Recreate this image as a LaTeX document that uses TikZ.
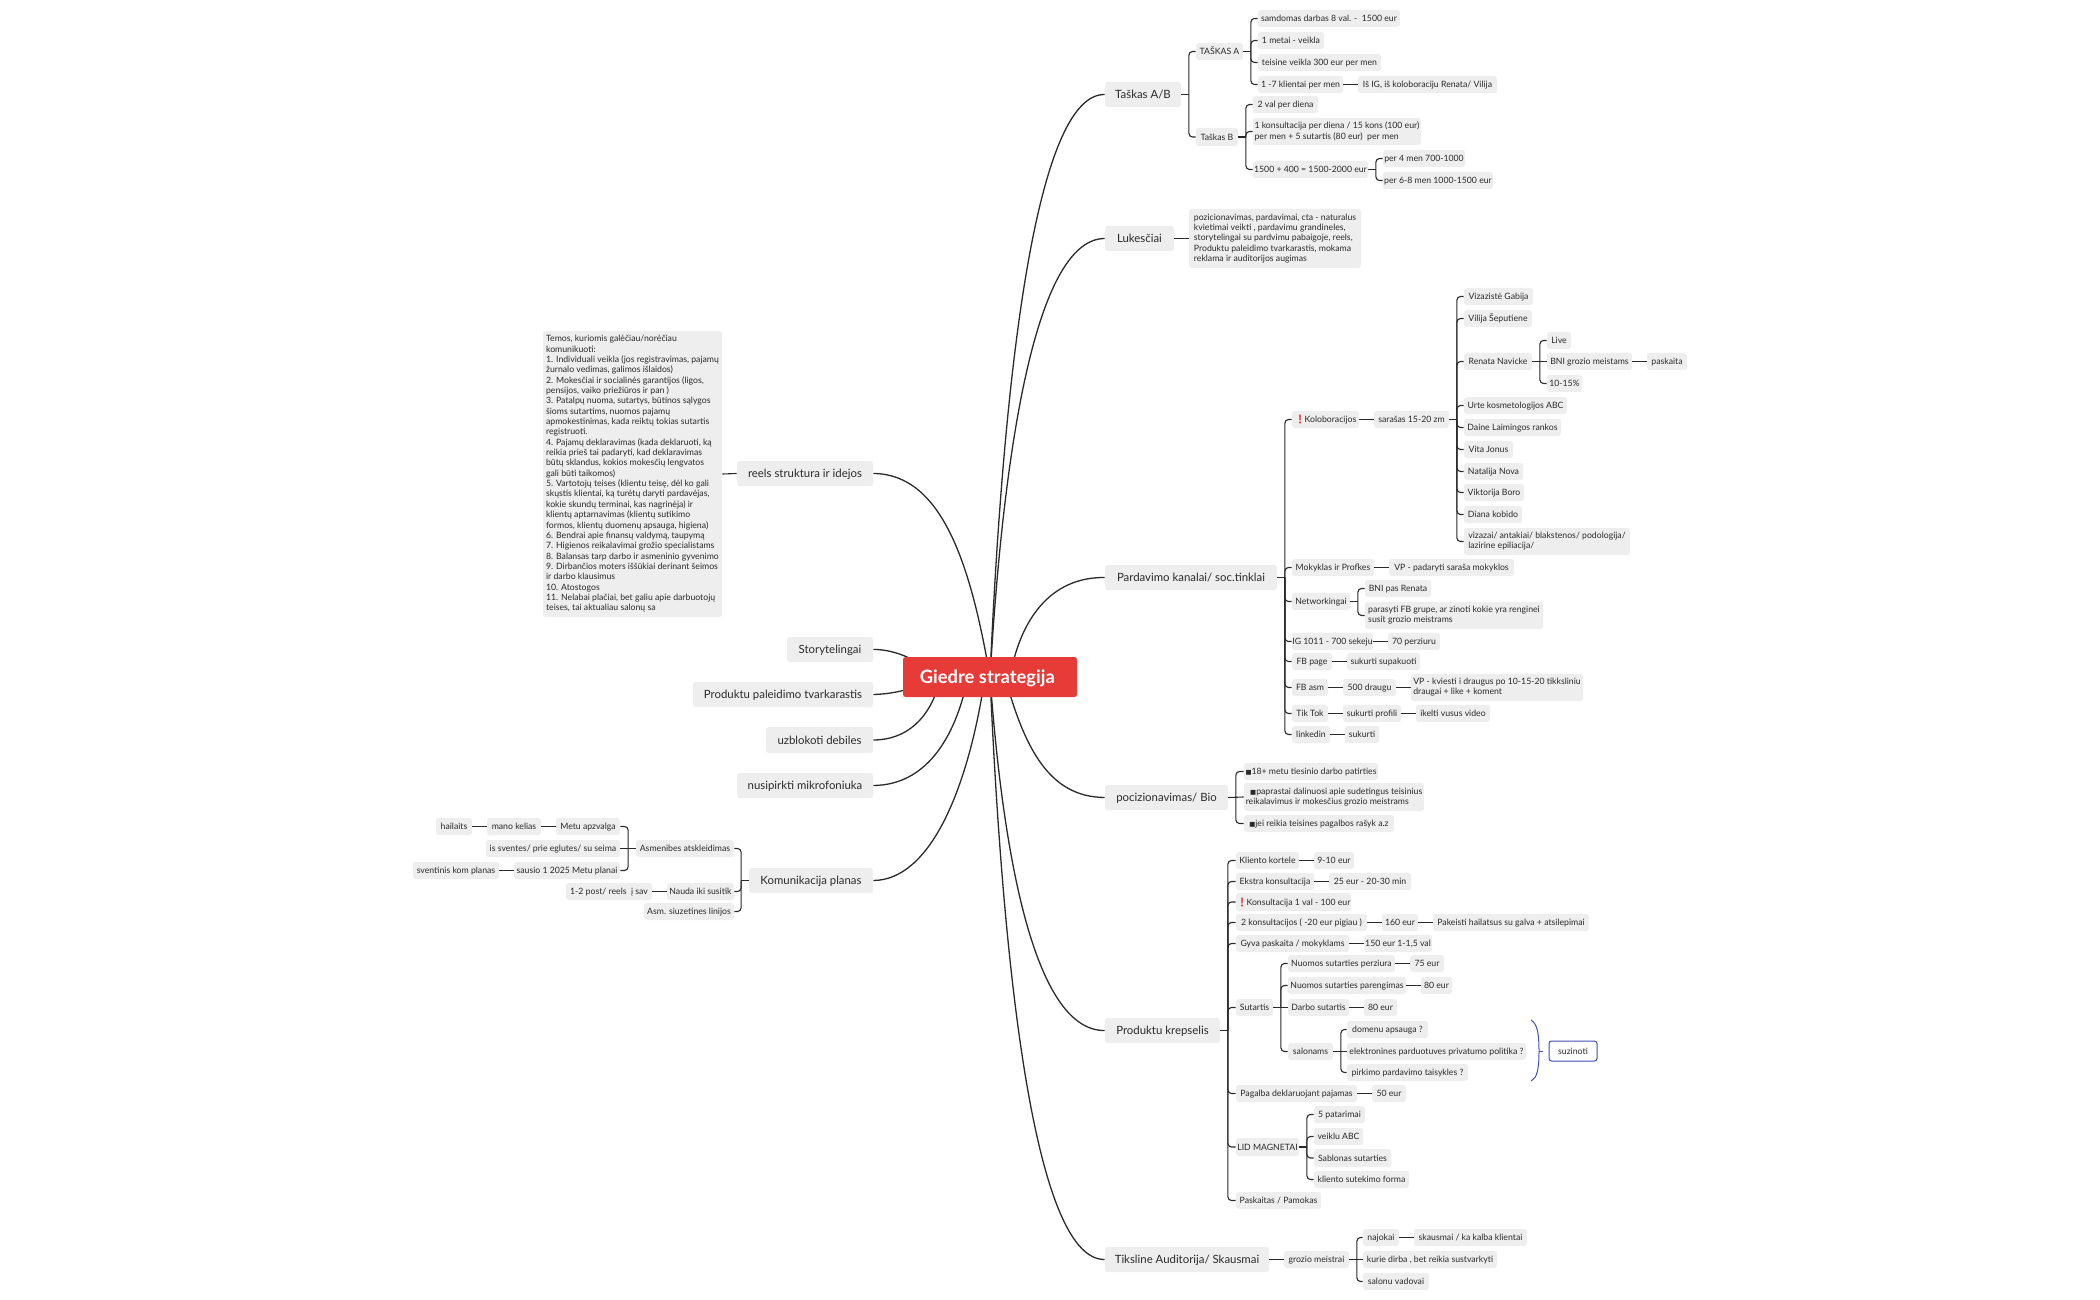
\documentclass[tikz,border=0pt]{standalone}
\usepackage{fontspec}
\setmainfont{Lato}
\newfontfamily\emojif{Noto Emoji}
\newfontfamily\symf{DejaVu Sans}
\usetikzlibrary{backgrounds}
\definecolor{inkc}{HTML}{2A2A2A}
\definecolor{boxc}{HTML}{EEEEEE}
\definecolor{rootc}{HTML}{E73B38}
\definecolor{bluec}{HTML}{3F51B5}
\definecolor{redc}{HTML}{E3202A}
\newcommand\alertm{{\color{redc}\emojif ❗}\kern-0.5pt}
\newcommand\sqm{{\symf\fontsize{3.2}{5}\selectfont ■}}
\tikzset{
  x=0.5pt,y=-0.5pt,
  basebox/.style={rounded corners=1.3pt,inner sep=0pt,align=left,text=inkc,fill=boxc},
  leaf/.style={basebox,font=\fontsize{4.35}{5.17}\selectfont,execute at begin node={\rule[-0.9pt]{0pt}{5.2pt}}},
  topic/.style={basebox,font=\fontsize{5.7}{7}\selectfont,execute at begin node={\rule[-1.3pt]{0pt}{6.8pt}}},
  rootbox/.style={basebox,fill=rootc,text=white,font=\fontsize{9.2}{10}\selectfont\bfseries,execute at begin node={\rule[-1.8pt]{0pt}{10.4pt}}},
  bluebox/.style={basebox,fill=white,draw=bluec,line width=0.5pt,font=\fontsize{4.35}{5.17}\selectfont,execute at begin node={\rule[-0.9pt]{0pt}{5.2pt}}},
  link/.style={draw=inkc,line width=0.55pt},
  mainlink/.style={draw=inkc,line width=0.65pt},
  bracelink/.style={draw=bluec,line width=0.5pt},
}
\newcommand\tn[7][leaf]{\node[#1,minimum width={(#5-#3)*0.5pt},minimum height={(#6-#4)*0.5pt}] (#2) at ({(#3+#5)/2},{(#4+#6)/2}) {#7};}
% branch to the right: stem to a trunk, then one elbow per child
\newcommand\brR[2]{\path (#1.east) -- ++(7.5,0) coordinate (#1t);
  \draw[link] (#1.east) -- (#1t);
  \foreach \c in {#2} {\draw[link,rounded corners=1.8pt] (#1t) |- (\c.west);}}
\newcommand\brL[2]{\path (#1.west) -- ++(-7.5,0) coordinate (#1t);
  \draw[link] (#1.west) -- (#1t);
  \foreach \c in {#2} {\draw[link,rounded corners=1.8pt] (#1t) |- (\c.east);}}
% straight links
\newcommand\lnR[2]{\draw[link] (#1.east) -- (#2.west);}
\newcommand\lnL[2]{\draw[link] (#1.west) -- (#2.east);}
\begin{document}
\begin{tikzpicture}
\useasboundingbox (0,0) rectangle (2100,1300);
% root
\tn[rootbox]{root}{903}{657}{1077}{697}{Giedre strategija\kern2.7pt}
% level 1 right
\tn[topic]{tab}{1105}{82}{1181}{107}{Taškas A/B}
\tn[topic]{luk}{1105}{226}{1174}{251}{Lukesčiai}
\tn[topic]{par}{1105}{565}{1277}{590}{Pardavimo kanalai/ soc.tinklai}
\tn[topic]{poz}{1105}{785}{1228}{810}{pocizionavimas/ Bio}
\tn[topic]{pro}{1105}{1018}{1220}{1043}{Produktu krepselis}
\tn[topic]{tik}{1105}{1247}{1269}{1272}{Tiksline Auditorija/ Skausmai}
% level 1 left
\tn[topic]{ree}{737}{461}{873}{486}{reels struktura ir idejos}
\tn[topic]{sto}{787}{637}{873}{662}{Storytelingai}
\tn[topic]{pal}{693}{682}{873}{707}{Produktu paleidimo tvarkarastis}
\tn[topic]{uzb}{766}{727}{873}{753}{uzblokoti debiles}
\tn[topic]{nus}{737}{773}{873}{798}{nusipirkti mikrofoniuka}
\tn[topic]{kom}{749}{868}{873}{893}{Komunikacija planas}
% main links
\coordinate (rs1) at (1010,677);
\coordinate (rs2) at (1005,677);
\coordinate (rs3) at (930,677);
\coordinate (rs4) at (920,685);
\coordinate (rs5) at (940,680);
\coordinate (rs6) at (968,677);
\coordinate (rs7) at (985,677);
\begin{scope}[on background layer]
\draw[mainlink] (root.center) .. controls (1005,340) and (1040,94) .. (tab.west);
\draw[mainlink] (root.center) .. controls (1005,423) and (1040,239) .. (luk.west);
\draw[mainlink] (rs1) .. controls (1020,620) and (1050,577) .. (par.west);
\draw[mainlink] (rs2) .. controls (1025,750) and (1050,797) .. (poz.west);
\draw[mainlink] (root.center) .. controls (1005,882) and (1040,1031) .. (pro.west);
\draw[mainlink] (root.center) .. controls (1005,1015) and (1040,1260) .. (tik.west);
\draw[mainlink] (root.center) .. controls (970,559) and (940,474) .. (ree.east);
\draw[mainlink] (rs3) .. controls (925,662) and (895,649) .. (sto.east);
\draw[mainlink] (rs4) .. controls (905,691) and (890,694) .. (pal.east);
\draw[mainlink] (rs5) .. controls (930,720) and (905,740) .. (uzb.east);
\draw[mainlink] (rs6) .. controls (955,740) and (925,785) .. (nus.east);
\draw[mainlink] (rs7) .. controls (968,790) and (930,880) .. (kom.east);
\end{scope}
% Taskas
\tn{ta}{1196}{43}{1243}{60}{TAŠKAS A}
\tn{tb}{1196}{128}{1238}{146}{Taškas B}
\tn{ta1}{1258}{10}{1400}{27}{samdomas darbas 8 val. -\ \ 1500 eur}
\tn{ta2}{1258}{32}{1324}{49}{1 metai - veikla}
\tn{ta3}{1258}{54}{1381}{71}{teisine veikla 300 eur per men}
\tn{ta4}{1258}{76}{1343}{93}{1 -7 klientai per men}
\tn{ta5}{1358}{76}{1497}{93}{Iš IG, iš koloboraciju Renata/ Vilija}
\tn{tb1}{1253}{96}{1318}{113}{2 val per diena}
\tn{tb2}{1253}{118}{1421}{145}{1 konsultacija per diena / 15 kons (100 eur)\\per men + 5 sutartis (80 eur)\ \ per men}
\tn{tb3}{1253}{161}{1368}{178}{1500 + 400 = 1500-2000 eur}
\tn{tb4}{1383}{150}{1465}{167}{per 4 men 700-1000}
\tn{tb5}{1383}{172}{1493}{189}{per 6-8 men 1000-1500 eur}
\brR{tab}{ta,tb}
\brR{ta}{ta1,ta2,ta3,ta4}
\lnR{ta4}{ta5}
\brR{tb}{tb1,tb2,tb3}
\brR{tb3}{tb4,tb5}
% Lukesciai
\tn{luk1}{1189}{209}{1361}{268}{pozicionavimas, pardavimai, cta - naturalus\\kvietimai veikti , pardavimu grandineles,\\storytelingai su pardvimu pabaigoje, reels,\\Produktu paleidimo tvarkarastis, mokama\\reklama ir auditorijos augimas}
\lnR{luk}{luk1}
% Pardavimo
\tn{kol}{1292}{411}{1359}{428}{\alertm Koloboracijos}
\tn{sar}{1374}{411}{1449}{428}{sarašas 15-20 zm}
\tn{z1}{1464}{288}{1533}{305}{Vizazistė Gabija}
\tn{z2}{1464}{310}{1532}{327}{Vilija Šeputiene}
\tn{z3}{1464}{353}{1532}{370}{Renata Navicke}
\tn{z3a}{1547}{332}{1571}{349}{Live}
\tn{z3b}{1547}{353}{1632}{370}{BNI grozio meistams}
\tn{z3c}{1547}{375}{1582}{392}{10-15\%}
\tn{z3d}{1647}{353}{1687}{370}{paskaita}
\tn{z4}{1464}{397}{1567}{414}{Urte kosmetologijos ABC}
\tn{z5}{1464}{419}{1561}{436}{Daine Laimingos rankos}
\tn{z6}{1464}{441}{1513}{458}{Vita Jonus}
\tn{z7}{1464}{463}{1523}{480}{Natalija Nova}
\tn{z8}{1464}{484}{1524}{501}{Viktorija Boro}
\tn{z9}{1464}{506}{1522}{523}{Diana kobido}
\tn{z10}{1464}{528}{1630}{555}{vizazai/ antakiai/ blakstenos/ podologija/\\lazirine epiliacija/}
\tn{mok}{1292}{559}{1374}{576}{Mokyklas ir Profkes}
\tn{mok1}{1389}{559}{1514}{576}{VP - padaryti saraša mokyklos}
\tn{net}{1292}{593}{1350}{610}{Networkingai}
\tn{net1}{1365}{580}{1431}{597}{BNI pas Renata}
\tn{net2}{1365}{602}{1543}{629}{parasyti FB grupe, ar zinoti kokie yra renginei\\susit grozio meistrams}
\tn{ig}{1292}{633}{1373}{650}{IG 1011 - 700 sekeju}
\tn{ig1}{1388}{633}{1440}{650}{70 perziuru}
\tn{fbp}{1292}{653}{1332}{670}{FB page}
\tn{fbp1}{1347}{653}{1420}{670}{sukurti supakuoti}
\tn{fba}{1292}{679}{1328}{696}{FB asm}
\tn{fba1}{1343}{679}{1396}{696}{500 draugu}
\tn{fba2}{1411}{674}{1583}{701}{VP - kviesti i draugus po 10-15-20 tikksliniu\\draugai + like + koment}
\tn{tt}{1292}{705}{1328}{722}{Tik Tok}
\tn{tt1}{1343}{705}{1401}{722}{sukurti profili}
\tn{tt2}{1416}{705}{1490}{722}{ikelti vusus video}
\tn{lin}{1292}{726}{1330}{743}{linkedin}
\tn{lin1}{1345}{726}{1379}{743}{sukurti}
\brR{par}{kol,mok,net,ig,fbp,fba,tt,lin}
\lnR{kol}{sar}
\brR{sar}{z1,z2,z3,z4,z5,z6,z7,z8,z9,z10}
\brR{z3}{z3a,z3c}
\lnR{z3}{z3b}
\lnR{z3b}{z3d}
\lnR{mok}{mok1}
\brR{net}{net1,net2}
\lnR{ig}{ig1}
\lnR{fbp}{fbp1}
\lnR{fba}{fba1}
\lnR{fba1}{fba2}
\lnR{tt}{tt1}
\lnR{tt1}{tt2}
\lnR{lin}{lin1}
% pocizionavimas
\tn{p1}{1244}{763}{1378}{780}{\sqm 18+ metu tiesinio darbo patirties}
\tn{p2}{1244}{783}{1424}{811}{\ \ \sqm paprastai dalinuosi apie sudetingus teisinius\\reikalavimus ir mokesčius grozio meistrams}
\tn{p3}{1244}{815}{1394}{832}{\sqm jei reikia teisines pagalbos rašyk a.z}
\brR{poz}{p1,p3}
\lnR{poz}{p2}
% Produktu krepselis
\tn{k1}{1236}{852}{1299}{869}{Kliento kortele}
\tn{k1a}{1314}{852}{1354}{869}{9-10 eur}
\tn{k2}{1236}{873}{1314}{890}{Ekstra konsultacija}
\tn{k2a}{1329}{873}{1411}{890}{25 eur - 20-30 min}
\tn{k3}{1236}{893}{1351}{911}{\alertm Konsultacija 1 val - 100 eur}
\tn{k4}{1236}{914}{1367}{931}{2 konsultacijos ( -20 eur pigiau )}
\tn{k4a}{1382}{914}{1418}{931}{160 eur}
\tn{k4b}{1433}{914}{1589}{931}{Pakeisti hailatsus su galva + atsilepimai}
\tn{k5}{1236}{935}{1349}{952}{Gyva paskaita / mokyklams}
\tn{k5a}{1364}{935}{1432}{952}{150 eur 1-1,5 val}
\tn{k6}{1236}{999}{1273}{1016}{Sutartis}
\tn{s1}{1288}{955}{1395}{972}{Nuomos sutarties perziura}
\tn{s1a}{1410}{955}{1444}{972}{75 eur}
\tn{s2}{1288}{977}{1406}{994}{Nuomos sutarties parengimas}
\tn{s2a}{1421}{977}{1452}{994}{80 eur}
\tn{s3}{1288}{999}{1349}{1016}{Darbo sutartis}
\tn{s3a}{1364}{999}{1397}{1016}{80 eur}
\tn{s4}{1288}{1043}{1333}{1060}{salonams}
\tn{s4a}{1347}{1021}{1428}{1038}{domenu apsauga ?}
\tn{s4b}{1347}{1043}{1526}{1060}{elektronines parduotuves privatumo politika ?}
\tn{s4c}{1347}{1064}{1468}{1081}{pirkimo pardavimo taisykles ?}
\tn[bluebox]{suz}{1549}{1041}{1597}{1061}{suzinoti}
\tn{k7}{1236}{1085}{1357}{1102}{Pagalba deklaruojant pajamas}
\tn{k7a}{1372}{1085}{1406}{1102}{50 eur}
\tn{k8}{1236}{1138}{1299}{1156}{LID MAGNETAI}
\tn{l1}{1314}{1106}{1365}{1123}{5 patarimai}
\tn{l2}{1314}{1128}{1363}{1145}{veiklu ABC}
\tn{l3}{1314}{1149}{1391}{1167}{Sablonas sutarties}
\tn{l4}{1314}{1171}{1409}{1188}{kliento sutekimo forma}
\tn{k9}{1236}{1192}{1321}{1209}{Paskaitas / Pamokas}
\brR{pro}{k1,k2,k3,k4,k5,k6,k7,k8,k9}
\lnR{k1}{k1a}
\lnR{k2}{k2a}
\lnR{k4}{k4a}
\lnR{k4a}{k4b}
\lnR{k5}{k5a}
\brR{k6}{s1,s2,s4}
\lnR{k6}{s3}
\lnR{s1}{s1a}
\lnR{s2}{s2a}
\lnR{s3}{s3a}
\brR{s4}{s4a,s4c}
\lnR{s4}{s4b}
\lnR{k7}{k7a}
\brR{k8}{l1,l2,l3,l4}
% brace
\coordinate (bt) at (1531,1020);
\coordinate (bb) at (1531,1081);
\coordinate (bm) at (1539,1051);
\coordinate (btip) at (1543,1051);
\draw[bracelink] (bt) .. controls (1537,1024) and (1539,1032) .. (bm) .. controls (1539,1070) and (1537,1078) .. (bb);
\draw[bracelink] (bm) -- (btip);
% Tiksline
\tn{g}{1284}{1251}{1349}{1268}{grozio meistrai}
\tn{g1}{1363}{1229}{1399}{1246}{najokai}
\tn{g1a}{1414}{1229}{1527}{1246}{skausmai / ka kalba klientai}
\tn{g2}{1363}{1251}{1497}{1268}{kurie dirba , bet reikia sustvarkyti}
\tn{g3}{1363}{1273}{1429}{1290}{salonu vadovai}
\lnR{tik}{g}
\brR{g}{g1,g3}
\lnR{g}{g2}
\lnR{g1}{g1a}
% reels
\tn{rt}{543}{331}{722}{617}{Temos, kuriomis galėčiau/norėčiau\\komunikuoti:\\1. Individuali veikla (jos registravimas, pajamų\\žurnalo vedimas, galimos išlaidos)\\2. Mokesčiai ir socialinės garantijos (ligos,\\pensijos, vaiko priežiūros ir pan )\\3. Patalpų nuoma, sutartys, būtinos sąlygos\\šioms sutartims, nuomos pajamų\\apmokestinimas, kada reiktų tokias sutartis\\registruoti.\\4. Pajamų deklaravimas (kada deklaruoti, ką\\reikia prieš tai padaryti, kad deklaravimas\\būtų sklandus, kokios mokesčių lengvatos\\gali būti taikomos)\\5. Vartotojų teises (klientu teisę, dėl ko gali\\skųstis klientai, ką turėtų daryti pardavėjas,\\kokie skundų terminai, kas nagrinėja) ir\\klientų aptarnavimas (klientų sutikimo\\formos, klientų duomenų apsauga, higiena)\\6. Bendrai apie finansų valdymą, taupymą\\7. Higienos reikalavimai grožio specialistams\\8. Balansas tarp darbo ir asmeninio gyvenimo\\9. Dirbančios moters iššūkiai derinant šeimos\\ir darbo klausimus\\10. Atostogos\\11. Nelabai plačiai, bet galiu apie darbuotojų\\teises, tai aktualiau salonų sa}
\lnL{ree}{rt}
% Komunikacija
\tn{as}{636}{840}{734}{857}{Asmenibes atskleidimas}
\tn{na}{667}{883}{734}{900}{Nauda iki susitik}
\tn{si}{644}{903}{734}{920}{Asm. siuzetines linijos}
\tn{me}{556}{818}{620}{835}{Metu apzvalga}
\tn{mk}{487}{818}{541}{835}{mano kelias}
\tn{ha}{436}{818}{472}{835}{hailaits}
\tn{iss}{486}{840}{620}{857}{is sventes/ prie eglutes/ su seima}
\tn{sau}{514}{862}{620}{879}{sausio 1 2025 Metu planai}
\tn{sve}{413}{862}{499}{879}{sventinis kom planas}
\tn{pst}{566}{883}{652}{900}{1-2 post/ reels\ \ į sav}
\brL{kom}{as,na,si}
\brL{as}{me,sau}
\lnL{as}{iss}
\lnL{me}{mk}
\lnL{mk}{ha}
\lnL{sau}{sve}
\lnL{na}{pst}
\end{tikzpicture}
\end{document}
